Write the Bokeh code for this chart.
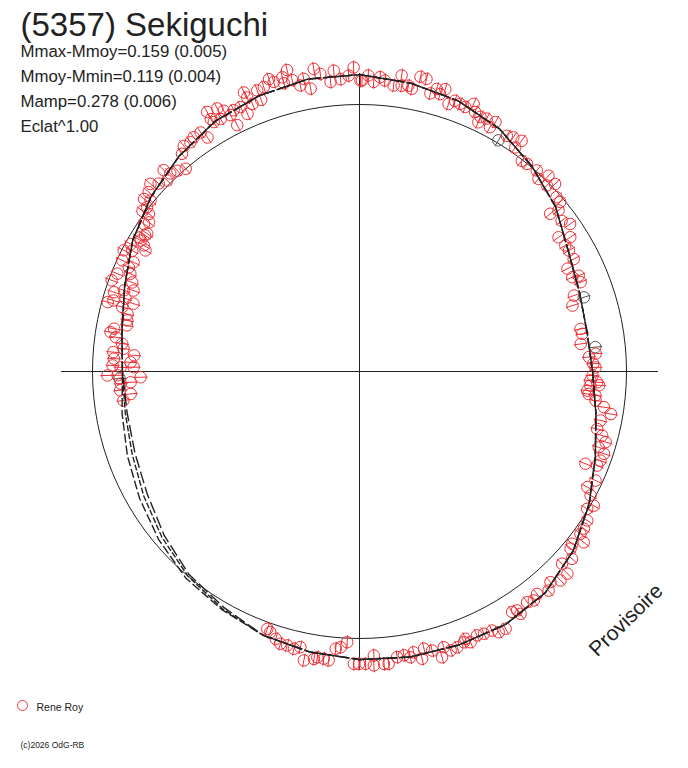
import numpy as np
from bokeh.plotting import figure
from bokeh.models import Range1d, Label
from bokeh.embed import file_html
from bokeh.resources import INLINE

# ---------------- texts ----------------
TITLE = "(5357) Sekiguchi"
STATS = ["Mmax-Mmoy=0.159 (0.005)", "Mmoy-Mmin=0.119 (0.004)",
         "Mamp=0.278 (0.006)", "Eclat^1.00"]
OBSERVER = "Rene Roy"
COPYRIGHT = "(c)2026 OdG-RB"
STAMP = "Provisoire"

# ---------------- data: rotational phase (deg, clockwise from top) and relative flux ----------------
phase_deg = [
    346.5, 345.3, 351.4, 352.5, 355.1, 358.9, 0.2, 354.3, 356.3, 357.9, 348.3, 350.2, 349.2, 347.0,
    345.3, 343.5, 342.8, 341.4, 340.0, 340.1, 337.7, 337.5, 338.2, 335.8, 334.3, 333.6, 336.5, 333.3,
    332.5, 331.6, 329.6, 329.5, 329.7, 331.2, 326.4, 327.0, 324.7, 323.6, 322.1, 320.8, 315.8, 316.3,
    317.8, 319.4, 314.8, 313.1, 311.9, 310.4, 308.7, 309.3, 307.7, 306.5, 306.8, 304.4, 303.0, 301.3,
    305.3, 302.4, 300.9, 300.3, 299.5, 299.1, 298.0, 297.2, 295.1, 295.8, 294.3, 292.0, 290.2, 293.1,
    291.4, 289.7, 289.0, 287.9, 287.3, 286.1, 285.4, 286.7, 285.2, 283.9, 282.4, 281.2, 279.9, 279.0,
    278.0, 276.7, 275.5, 274.5, 274.1, 272.3, 273.0, 271.4, 271.0, 271.1, 269.1, 269.1, 268.5, 267.3,
    267.1, 265.5, 264.4, 263.0,
    0.5, 1.7, 2.8, 4.0, 5.0, 6.8, 8.1, 8.4, 9.7, 10.5, 11.7, 12.9, 14.3, 15.3, 16.9, 16.2, 18.4, 19.4,
    20.6, 21.8, 23.1, 24.0, 25.4, 25.5, 26.7, 28.1, 28.6, 32.0, 33.3, 35.1, 34.8, 37.6, 38.9, 41.4,
    42.9, 44.0, 46.2, 45.2, 48.5, 49.8, 50.4, 51.0, 53.3, 55.0, 56.0, 57.5,
    58.5, 60.0, 62.3, 63.7, 66.4, 68.0, 66.1, 70.5, 72.8, 79.1, 80.4, 82.9, 86.4, 85.7, 88.1, 89.0,
    91.0, 92.6, 92.2, 94.8, 95.8,
    93.5, 93.3, 95.6, 97.0, 98.3, 99.6, 101.5, 103.6, 104.8, 106.0, 107.6, 108.6, 110.3, 112.2, 111.6,
    114.8, 116.9, 118.2, 119.8, 121.1, 123.2, 125.0, 126.3, 127.3, 129.0, 130.0, 131.4, 133.5, 134.2,
    136.1, 137.8, 139.2, 141.4, 142.7, 144.0, 146.6, 147.6, 146.4, 150.4, 151.9, 152.9, 154.6, 156.0,
    158.4,
    157.7, 158.9, 160.5, 161.9, 163.0, 163.9, 165.4, 166.9, 167.7, 169.1, 169.9, 171.1, 172.5, 174.3,
    175.2, 177.1, 177.2, 178.8, 180.1, 181.1, 182.6, 183.9, 184.9, 186.1, 187.1, 188.4, 189.0, 190.9,
    192.1, 193.3, 194.8, 196.2, 197.4, 198.9, 199.7,
]
flux = [
    1.161, 1.139, 1.146, 1.124, 1.131, 1.139, 1.090, 1.090, 1.097, 1.109, 1.094, 1.075, 1.116, 1.120,
    1.116, 1.131, 1.146, 1.124, 1.120, 1.082, 1.109, 1.131, 1.079, 1.086, 1.086, 1.030, 1.052, 1.075,
    1.101, 1.120, 1.127, 1.097, 1.082, 1.079, 1.075, 1.045, 1.075, 1.067, 1.071, 1.052, 1.052, 1.026,
    1.015, 1.000, 1.015, 1.030, 1.052, 1.037, 1.034, 1.011, 1.006, 1.011, 0.985, 0.978, 0.948, 0.966,
    0.966, 0.951, 0.955, 0.936, 0.921, 0.981, 0.964, 0.993, 0.981, 0.940, 0.948, 0.978, 0.989, 0.933,
    0.914, 0.899, 0.933, 0.966, 0.918, 0.959, 0.978, 0.884, 0.921, 0.895, 0.891, 0.888, 0.933, 0.944,
    0.921, 0.895, 0.888, 0.925, 0.846, 0.858, 0.921, 0.925, 0.895, 0.846, 0.944, 0.906, 0.820, 0.858,
    0.895, 0.899, 0.861, 0.891,
    1.090, 1.109, 1.086, 1.105, 1.094, 1.079, 1.120, 1.082, 1.086, 1.077, 1.127, 1.124, 1.075, 1.097,
    1.105, 1.082, 1.056, 1.075, 1.071, 1.067, 1.090, 1.064, 1.056, 1.034, 1.060, 1.037, 1.064, 1.041,
    1.049, 1.056, 1.022, 0.996, 0.999, 1.004, 0.985, 1.019, 1.015, 0.989, 0.985, 0.984, 0.927, 0.959,
    0.944, 0.963, 0.899, 0.936,
    0.904, 0.906, 0.906, 0.869, 0.896, 0.893, 0.872, 0.852, 0.835, 0.843, 0.846, 0.835, 0.861, 0.887,
    0.876, 0.884, 0.873, 0.891, 0.865, 0.856, 0.888,
    0.866, 0.899, 0.862, 0.891, 0.925, 0.955, 0.921, 0.916, 0.940, 0.959, 0.940, 0.966, 0.962, 0.914,
    0.957, 0.974, 0.957, 0.982, 1.011, 0.996, 1.019, 1.026, 1.027, 1.056, 1.025, 1.032, 1.061, 1.046,
    1.086, 1.086, 1.065, 1.084, 1.066, 1.078, 1.068, 1.072, 1.067, 1.090, 1.108, 1.107, 1.090, 1.087,
    1.082, 1.077,
    1.096, 1.087, 1.096, 1.099, 1.080, 1.114, 1.080, 1.066, 1.101, 1.071, 1.087, 1.076, 1.079, 1.100,
    1.099, 1.065, 1.102, 1.095, 1.095, 1.095, 1.015, 1.035, 1.042, 1.088, 1.084, 1.082, 1.090, 1.102,
    1.056, 1.067, 1.061, 1.062, 1.049, 1.032, 1.024,
]
flux_err = 0.026

# points drawn in grey
grey_phase_deg = [31.0, 71.7, 84.1, 268.3]
grey_flux = [1.010, 0.885, 0.888, 0.899]

# fitted light curves (three solutions), sampled every 10 deg
fit_phase_deg = [0, 10, 20, 30, 40, 50, 60, 70, 80, 90, 100, 110, 120, 130, 140, 150, 160, 170,
                 180, 190, 200, 210, 220, 230, 240, 250, 260, 270, 280, 290, 300, 310, 320, 330, 340, 350]
fit_flux_a = [1.112, 1.097, 1.079, 1.049, 1.004, 0.959, 0.903, 0.876, 0.865, 0.873, 0.899, 0.940,
              0.993, 1.045, 1.082, 1.094, 1.090, 1.086, 1.079, 1.067, 1.052, 1.030, 1.011, 0.981,
              0.951, 0.925, 0.903, 0.888, 0.903, 0.936, 0.981, 1.019, 1.052, 1.082, 1.099, 1.112]
fit_flux_b = [1.112, 1.097, 1.079, 1.049, 1.004, 0.959, 0.903, 0.876, 0.865, 0.873, 0.899, 0.940,
              0.993, 1.045, 1.082, 1.094, 1.090, 1.086, 1.079, 1.067, 1.052, 1.026, 1.000, 0.966,
              0.933, 0.906, 0.891, 0.888, 0.903, 0.936, 0.981, 1.019, 1.052, 1.082, 1.099, 1.112]
fit_flux_c = [1.112, 1.097, 1.079, 1.049, 1.004, 0.959, 0.903, 0.876, 0.865, 0.873, 0.899, 0.940,
              0.993, 1.045, 1.082, 1.094, 1.090, 1.086, 1.079, 1.067, 1.052, 1.019, 0.993, 0.955,
              0.918, 0.895, 0.884, 0.888, 0.903, 0.936, 0.981, 1.019, 1.052, 1.082, 1.099, 1.112]
MEAN_FLUX = 1.0

# ---------------- layout ----------------
W, H = 672, 752
CX, CY = 359, 371          # pixel position of the pole inside the canvas
SCALE = 267                # pixels per unit of relative flux
AXIS_HALF = 1.118
RED = "#ee3036"
GREY = "#555555"
INK = "#222222"
FONT = "Liberation Sans"


def px(xp):
    return (xp - CX) / SCALE


def py(yp):
    return (CY - yp) / SCALE


def polar(th_deg, r):
    t = np.radians(np.asarray(th_deg, dtype=float))
    r = np.asarray(r, dtype=float)
    return r * np.sin(t), r * np.cos(t)


p = figure(width=W, height=H, output_backend="svg", toolbar_location=None,
           x_range=Range1d(-CX / SCALE, (W - CX) / SCALE),
           y_range=Range1d(-(H - CY) / SCALE, CY / SCALE),
           x_axis_type=None, y_axis_type=None, min_border=0)
p.grid.visible = False
p.outline_line_color = None
p.background_fill_color = "white"
p.border_fill_color = "white"

# cross and mean circle
p.segment(x0=[-AXIS_HALF, 0], y0=[0, -AXIS_HALF], x1=[AXIS_HALF, 0], y1=[0, AXIS_HALF],
          line_color=INK, line_width=1)
p.circle(x=[0], y=[0], radius=[MEAN_FLUX], fill_color=None, line_color=INK, line_width=1)

# grey points
gx, gy = polar(grey_phase_deg, grey_flux)
g0x, g0y = polar(grey_phase_deg, np.array(grey_flux) - flux_err)
g1x, g1y = polar(grey_phase_deg, np.array(grey_flux) + flux_err)
p.segment(x0=g0x, y0=g0y, x1=g1x, y1=g1y, line_color=GREY, line_width=1)
p.scatter(gx, gy, marker="circle", size=11.5, fill_color=None, line_color=GREY, line_width=1)

# red points with radial error bars
fx, fy = polar(phase_deg, flux)
e0x, e0y = polar(phase_deg, np.array(flux) - flux_err)
e1x, e1y = polar(phase_deg, np.array(flux) + flux_err)
p.segment(x0=e0x, y0=e0y, x1=e1x, y1=e1y, line_color=RED, line_width=1)
p.scatter(fx, fy, marker="circle", size=11.5, fill_color=None, line_color=RED, line_width=1)

# fitted curves
for fl, dash in ((fit_flux_a, "9 3"), (fit_flux_b, "6 2"), (fit_flux_c, "12 4")):
    th = list(fit_phase_deg) + [fit_phase_deg[0] + 360]
    rr = list(fl) + [fl[0]]
    cx_, cy_ = polar(th, rr)
    p.line(cx_, cy_, line_color=INK, line_width=1.4, line_dash=dash)

# texts
p.add_layout(Label(x=px(20), y=py(23.5), text=TITLE, text_font=FONT, text_font_size="33px",
                   text_color=INK, text_baseline="alphabetic", text_align="left"))
for i, s in enumerate(STATS):
    p.add_layout(Label(x=px(20), y=py(50.5 + 25 * i), text=s, text_font=FONT,
                       text_font_size="16.8px", text_color=INK, text_baseline="alphabetic",
                       text_align="left"))

# observer legend
p.scatter([px(22)], [py(705)], marker="circle", size=10, fill_color=None,
          line_color="#e03a44", line_width=1)
p.add_layout(Label(x=px(36), y=py(706), text=OBSERVER, text_font=FONT, text_font_size="10.5px",
                   text_color=INK, text_baseline="alphabetic", text_align="left"))
p.add_layout(Label(x=px(20), y=py(744), text=COPYRIGHT, text_font=FONT, text_font_size="8.5px",
                   text_color=INK, text_baseline="alphabetic", text_align="left"))
p.add_layout(Label(x=px(625), y=py(619), text=STAMP, text_font=FONT, text_font_size="21px",
                   text_color=INK, text_baseline="middle", text_align="center", angle=0.77))

open("out.html", "w").write(file_html(p, INLINE))
